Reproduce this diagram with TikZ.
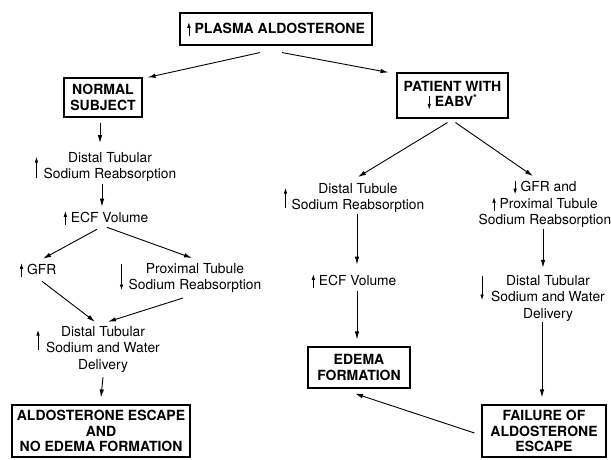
\documentclass[tikz,border=0pt]{standalone}
\usepackage{fontspec}
\setmainfont{TeX Gyre Heros}
\usetikzlibrary{arrows.meta,positioning}

\tikzset{
  box/.style={rectangle, draw=black, line width=1.1pt, align=center, inner sep=2pt,
    font=\fontsize{14}{15.5}\selectfont\bfseries},
  txt/.style={align=center, inner sep=1pt, font=\fontsize{13.8}{16.5}\selectfont},
  arr/.style={line width=0.9pt, -{Latex[length=8pt,width=4.5pt]}},
  ind/.style={line width=0.7pt, -{Latex[length=5.5pt,width=3.5pt]}},
}
\newcommand{\arrup}{\tikz[baseline=0pt]\draw[ind] (0pt,-2.5pt) -- (0pt,11pt);}
\newcommand{\arrdn}{\tikz[baseline=0pt]\draw[ind] (0pt,11pt) -- (0pt,-2.5pt);}

\begin{document}
\begin{tikzpicture}[x=1pt, y=-1pt]
  \useasboundingbox (0,0) rectangle (611,459);

  \node [box, minimum width=192pt, minimum height=32pt] (plasma) at (276,29) {\arrup\ PLASMA ALDOSTERONE};

  % normal subject
  \node [box, minimum width=78pt, minimum height=39pt] (normal) at (103,97.5) {NORMAL\\SUBJECT};
  \node [txt] (dtl) at (110,167) {Distal Tubular\\Sodium Reabsorption};
  \node [txt] (ecfl) at (106,218) {\arrup\ ECF Volume};
  \node [txt] (gfrl) at (38,270) {\arrup\ GFR};
  \node [txt] (proxl) at (195,278) {Proximal Tubule\\Sodium Reabsorption};
  \node [txt] (ddl) at (103,349) {Distal Tubular\\Sodium and Water\\Delivery};
  \node [box, minimum width=178pt, minimum height=52pt] (escape) at (101,431) {ALDOSTERONE ESCAPE\\AND\\NO EDEMA FORMATION};

  \draw[ind] ([xshift=-6pt,yshift=-11pt]dtl.west) -- ++(0,-21);
  \draw[ind] ([xshift=-6pt,yshift=14pt]proxl.west) -- ++(0,26);
  \draw[ind] ([xshift=-7pt,yshift=-1pt]ddl.west) -- ++(0,-20);

  % patient
  \node [box, minimum width=111pt, minimum height=45pt] (patient) at (452.5,95.5) {PATIENT WITH\\\arrdn\ EABV\textsuperscript{*}};
  \node [txt] (dtr) at (358,198) {Distal Tubule\\Sodium Reabsorption};
  \node [txt] (ecfr) at (354,281) {\arrup\ ECF Volume};
  \node [box, minimum width=102pt, minimum height=41pt] (edema) at (359,367.5) {EDEMA\\FORMATION};
  \node [txt] (gfrr) at (545,204) {\arrdn\ GFR and\\\arrup\ Proximal Tubule\\Sodium Reabsorption};
  \node [txt] (ddr) at (548,298) {Distal Tubular\\Sodium and Water\\Delivery};
  \node [box, minimum width=124pt, minimum height=52pt] (failure) at (544,431) {FAILURE OF\\ALDOSTERONE\\ESCAPE};

  \draw[ind] ([xshift=-5pt,yshift=-10pt]dtr.west) -- ++(0,-20);
  \draw[ind] ([xshift=-8pt,yshift=22pt]ddr.west) -- ++(0,24);

  % connectors
  \draw[arr] ([xshift=-16pt,yshift=-7pt]plasma.south) -- ([xshift=5pt]normal.north east);
  \draw[arr] ([xshift=6pt,yshift=-7pt]plasma.south) -- ([xshift=-8pt]patient.north west);
  \draw[arr] ([xshift=-3pt,yshift=-5pt]normal.south) -- ([xshift=-10pt,yshift=8pt]dtl.north);
  \draw[arr] ([xshift=-8pt,yshift=-1pt]dtl.south) -- ([xshift=-4pt,yshift=3pt]ecfl.north);
  \draw[arr] ([xshift=-9pt,yshift=-3pt]ecfl.south) -- ([xshift=5pt,yshift=3pt]gfrl.north);
  \draw[arr] ([xshift=1pt,yshift=-1pt]ecfl.south) -- ([xshift=-3pt,yshift=4pt]proxl.north);
  \draw[arr] ([xshift=4pt,yshift=-3pt]gfrl.south) -- ([xshift=-8pt,yshift=3pt]ddl.north);
  \draw[arr] ([xshift=-12pt,yshift=-4pt]proxl.south) -- ([xshift=5pt,yshift=3pt]ddl.north);
  \draw[arr] ([yshift=-4pt]ddl.south) -- ([yshift=7pt]escape.north);
  \draw[arr] ([xshift=-5pt,yshift=-4pt]patient.south) -- ([yshift=5pt]dtr.north);
  \draw[arr] ([xshift=3pt,yshift=-4pt]patient.south) -- ([xshift=-12pt,yshift=3pt]gfrr.north);
  \draw[arr] ([xshift=-1pt]dtr.south) -- ([xshift=3pt,yshift=8pt]ecfr.north);
  \draw[arr] ([xshift=3pt,yshift=-2pt]ecfr.south) -- ([xshift=-2pt,yshift=7pt]edema.north);
  \draw[arr] ([xshift=-2pt]gfrr.south) -- ([xshift=-5pt,yshift=6pt]ddr.north);
  \draw[arr] ([xshift=-6pt]ddr.south) -- ([xshift=-2pt,yshift=7pt]failure.north);
  \draw[arr] ([xshift=-7pt,yshift=-2pt]failure.west) -- ([xshift=-4pt,yshift=-5pt]edema.south);
\end{tikzpicture}
\end{document}
